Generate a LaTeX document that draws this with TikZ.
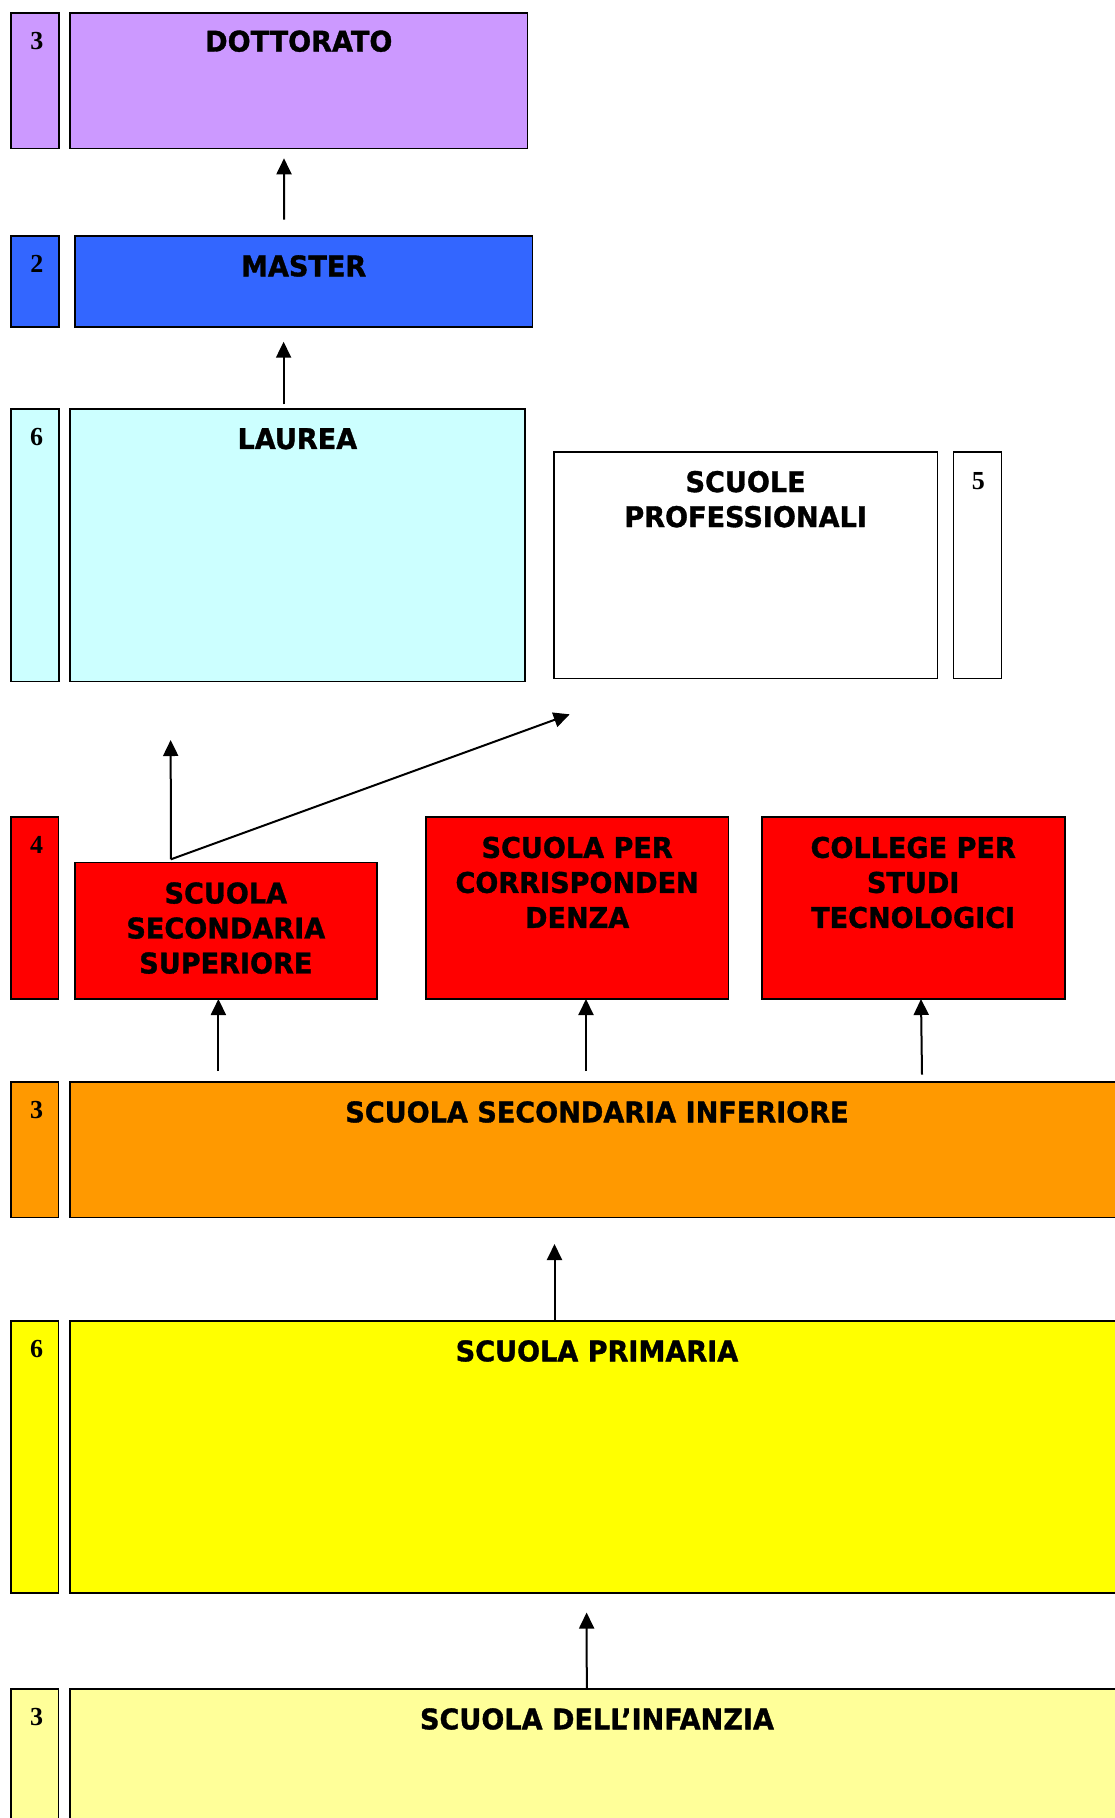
\documentclass[tikz,border=0pt]{standalone}
\usepackage{fontspec}
\usetikzlibrary{arrows.meta}
\newfontfamily\lblfont{DejaVu Sans}[FakeStretch=0.95,FakeBold=1.2]
\newfontfamily\numfont{Liberation Serif}
\definecolor{cpurple}{HTML}{CC99FF}
\definecolor{cblue}{HTML}{3366FF}
\definecolor{ccyan}{HTML}{CCFFFF}
\definecolor{cred}{HTML}{FF0000}
\definecolor{corange}{HTML}{FF9900}
\definecolor{cyellow}{HTML}{FFFF00}
\definecolor{cpale}{HTML}{FFFF99}
\begin{document}
\begin{tikzpicture}[x=1pt,y=-1pt,
  box/.style={draw=black, line width=1.6pt, inner sep=0pt, outer sep=0pt, anchor=north west},
  lbl/.style={font=\lblfont\bfseries\fontsize{28.5}{35}\selectfont, align=center, anchor=north, inner sep=0pt},
  num/.style={font=\numfont\bfseries\fontsize{26}{30}\selectfont, anchor=base, inner sep=0pt},
  arr/.style={line width=2pt, -{Triangle[length=16pt,width=15pt]}}]
\useasboundingbox (0,0) rectangle (1115,1818);
\clip (0,0) rectangle (1115,1818);
\fill[white] (0,0) rectangle (1115,1818);

% boxes
\node[box, fill=cpurple, minimum width=48.3pt, minimum height=135.6pt] (n1) at (10.7,12.7) {};
\node[box, fill=cpurple, minimum width=457.6pt, minimum height=135.6pt] (dott) at (70,12.7) {};
\node[box, fill=cblue, minimum width=48.3pt, minimum height=90.7pt] (n2) at (10.7,236) {};
\node[box, fill=cblue, minimum width=457.9pt, minimum height=90.7pt] (master) at (74.7,236) {};
\node[box, fill=ccyan, minimum width=48pt, minimum height=272.5pt] (n3) at (10.7,409) {};
\node[box, fill=ccyan, minimum width=455.3pt, minimum height=272.5pt] (laurea) at (69.7,409) {};
\node[box, fill=white, minimum width=383.3pt, minimum height=226.7pt] (prof) at (554,451.7) {};
\node[box, fill=white, minimum width=48pt, minimum height=226.7pt] (n4) at (953.3,451.7) {};
\node[box, fill=cred, minimum width=47.8pt, minimum height=182pt] (n5) at (10.7,817) {};
\node[box, fill=cred, minimum width=302.3pt, minimum height=136.4pt] (sss) at (74.7,862.6) {};
\node[box, fill=cred, minimum width=302.3pt, minimum height=182pt] (corr) at (426,817) {};
\node[box, fill=cred, minimum width=303pt, minimum height=182pt] (coll) at (761.7,817) {};
\node[box, fill=corange, minimum width=47.8pt, minimum height=135.5pt] (n6) at (10.7,1082) {};
\node[box, fill=corange, minimum width=1054.6pt, minimum height=135.5pt] (ssi) at (69.7,1082) {};
\node[box, fill=cyellow, minimum width=47.8pt, minimum height=272pt] (n7) at (10.7,1321) {};
\node[box, fill=cyellow, minimum width=1054.6pt, minimum height=272pt] (prim) at (69.7,1321) {};
\node[box, fill=cpale, minimum width=47.8pt, minimum height=160pt] (n8) at (10.7,1689) {};
\node[box, fill=cpale, minimum width=1054.6pt, minimum height=160pt] (inf) at (69.7,1689) {};

% labels
\node[lbl] (tdott) at ([yshift=-17.5pt]dott.north) {DOTTORATO};
\node[lbl] (tmaster) at ([yshift=-19pt]master.north) {MASTER};
\node[lbl] (tlaurea) at ([yshift=-19pt]laurea.north) {LAUREA};
\node[lbl] (tprof) at ([yshift=-19pt]prof.north) {SCUOLE\\PROFESSIONALI};
\node[lbl] (tsss) at ([yshift=-19.5pt]sss.north) {SCUOLA\\SECONDARIA\\SUPERIORE};
\node[lbl] (tcorr) at ([yshift=-19.5pt]corr.north) {SCUOLA PER\\CORRISPONDEN\\DENZA};
\node[lbl] (tcoll) at ([yshift=-19.5pt]coll.north) {COLLEGE PER\\STUDI\\TECNOLOGICI};
\node[lbl] (tssi) at ([yshift=-19pt]ssi.north) {SCUOLA SECONDARIA INFERIORE};
\node[lbl] (tprim) at ([yshift=-19pt]prim.north) {SCUOLA PRIMARIA};
\node[lbl] (tinf) at ([yshift=-19pt]inf.north) {SCUOLA DELL’INFANZIA};

% year numbers
\node[num] (d1) at ([xshift=2pt,yshift=-36.5pt]n1.north) {3};
\node[num] (d2) at ([xshift=2pt,yshift=-36.5pt]n2.north) {2};
\node[num] (d3) at ([xshift=2pt,yshift=-36.5pt]n3.north) {6};
\node[num] (d4) at ([xshift=1pt,yshift=-37.5pt]n4.north) {5};
\node[num] (d5) at ([xshift=2pt,yshift=-36.5pt]n5.north) {4};
\node[num] (d6) at ([xshift=2pt,yshift=-36.5pt]n6.north) {3};
\node[num] (d7) at ([xshift=2pt,yshift=-36.5pt]n7.north) {6};
\node[num] (d8) at ([xshift=2pt,yshift=-36.5pt]n8.north) {3};

% arrows
\draw[arr] ([xshift=-19.6pt,yshift=16.3pt]master.north) -- ([xshift=-14.8pt,yshift=-10pt]dott.south);
\draw[arr] ([xshift=-13.75pt,yshift=4.7pt]laurea.north) -- ([xshift=-20.05pt,yshift=-15pt]master.south);
\coordinate (branch) at ([xshift=-54.9pt,yshift=3.3pt]sss.north);
\draw[arr] (branch) -- ([xshift=-126.7pt,yshift=-58.5pt]laurea.south);
\draw[arr] (branch) -- ([xshift=15.7pt,yshift=-35.9pt]prof.south west);
\draw[arr] ([xshift=-378.6pt,yshift=11pt]ssi.north) -- ([xshift=-7.45pt]sss.south);
\draw[arr] ([xshift=-11pt,yshift=11pt]ssi.north) -- ([xshift=8.85pt]corr.south);
\draw[arr] ([xshift=325pt,yshift=7.5pt]ssi.north) -- ([xshift=7.8pt]coll.south);
\draw[arr] ([xshift=-42.5pt]prim.north) -- ([xshift=-42.5pt,yshift=-26.5pt]ssi.south);
\draw[arr] ([xshift=-10.2pt]inf.north) -- ([xshift=-10.4pt,yshift=-19.5pt]prim.south);
\end{tikzpicture}
\end{document}
